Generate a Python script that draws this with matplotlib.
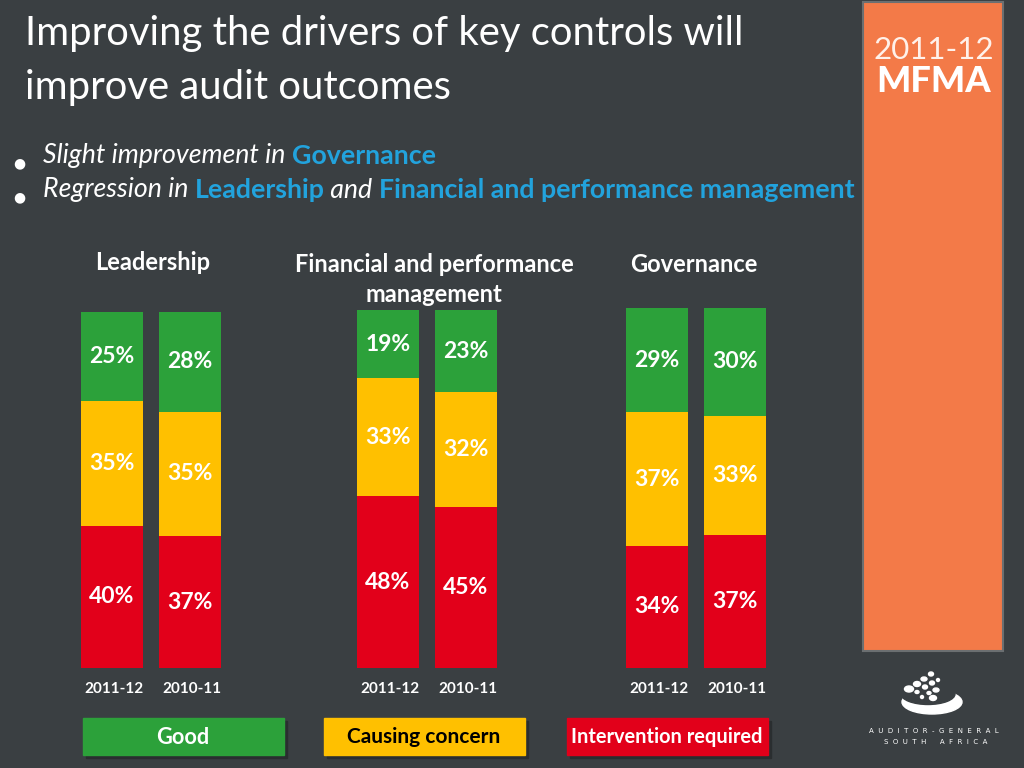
import matplotlib.pyplot as plt
from matplotlib.patches import Rectangle, Ellipse

# data
groups = ['Leadership', 'Financial and performance\nmanagement', 'Governance']
years = ['2011-12', '2010-11']
good = [[25, 28], [19, 23], [29, 30]]
concern = [[35, 35], [33, 32], [37, 33]]
intervention = [[40, 37], [48, 45], [34, 37]]
legend_labels = ['Good', 'Causing concern', 'Intervention required']

BG = '#3a3f42'
GREEN = '#2ca13a'
YELLOW = '#ffc000'
RED = '#e2001a'
BLUE = '#22a3dd'
ORANGE = '#f37a48'
FONT = 'Lato'

W, H = 1024, 768
fig = plt.figure(figsize=(W / 100, H / 100), dpi=100, facecolor=BG)
bg = fig.add_axes([0, 0, 1, 1])
bg.set_xlim(0, W)
bg.set_ylim(H, 0)
bg.axis('off')
bg.set_facecolor(BG)

# title
bg.text(25, 34, 'Improving the drivers of key controls will', color='white',
        fontsize=28.8, family=FONT, va='center')
bg.text(25, 88, 'improve audit outcomes', color='white',
        fontsize=28.8, family=FONT, va='center')

# bullets with mixed styles
fig.canvas.draw()
renderer = fig.canvas.get_renderer()


def runs(x, y, parts):
    for txt, col, style, weight in parts:
        t = bg.text(x, y, txt, color=col, fontsize=19.3, family=FONT,
                    style=style, weight=weight, va='center')
        bb = t.get_window_extent(renderer=renderer)
        x += bb.width


for yy in (163, 197):
    bg.text(19, yy, '\u25CF', color='white', fontsize=10, ha='center', va='center')
runs(43, 156, [('Slight improvement in ', 'white', 'italic', 'normal'),
               ('Governance', BLUE, 'normal', 'bold')])
runs(43, 190, [('Regression in ', 'white', 'italic', 'normal'),
               ('Leadership', BLUE, 'normal', 'bold'),
               (' and ', 'white', 'italic', 'normal'),
               ('Financial and performance management', BLUE, 'normal', 'bold')])

# bar groups
bar_left = [112, 388, 657]   # pixel centre of first bar in each group
bar_top = [312, 310, 308]
bar_bottom = 668
step = 78
title_x = [153, 434, 694]
title_y = [263, 264, 265]

for i, name in enumerate(groups):
    left = (bar_left[i] - step / 2) / W
    bottom = (H - bar_bottom) / H
    height = (bar_bottom - bar_top[i]) / H
    ax = fig.add_axes([left, bottom, 2 * step / W, height])
    ax.set_xlim(-0.5, 1.5)
    ax.set_ylim(0, 100)
    ax.axis('off')
    xs = [0, 1]
    r = intervention[i]
    y_ = concern[i]
    g = good[i]
    ax.bar(xs, r, width=0.8, color=RED)
    ax.bar(xs, y_, width=0.8, bottom=r, color=YELLOW)
    ax.bar(xs, g, width=0.8, bottom=[a + b for a, b in zip(r, y_)], color=GREEN)
    for j in xs:
        segs = [(0, r[j]), (r[j], y_[j]), (r[j] + y_[j], g[j])]
        for b, v in segs:
            ax.text(j, b + v / 2, f'{v}%', color='white', fontsize=16.5,
                    weight='bold', family=FONT, ha='center', va='center')
        bg.text(bar_left[i] + j * step + 2, 689, years[j], color='white',
                fontsize=11, weight='bold', family=FONT, ha='center', va='center')
    for k, line in enumerate(name.split('\n')):
        bg.text(title_x[i], title_y[i] + 30 * k, line, color='white', fontsize=17,
                weight='bold', family=FONT, ha='center', va='center')

# legend boxes
box_x = [83, 324, 567]
box_col = [GREEN, YELLOW, RED]
txt_col = ['white', 'black', 'white']
txt_size = [15.7, 15, 14.4]
for bx, lab, c, tc, ts in zip(box_x, legend_labels, box_col, txt_col, txt_size):
    bg.add_patch(Rectangle((bx + 3, 721), 201, 37, color='#2a2e30', zorder=1))
    bg.add_patch(Rectangle((bx, 718), 201, 37, color=c, zorder=2))
    bg.text(bx + 100, 737, lab, color=tc, fontsize=ts,
            weight='bold', family=FONT, ha='center', va='center', zorder=3)

# orange side band
bg.add_patch(Rectangle((863, 2), 140, 649, facecolor=ORANGE, edgecolor='#6b6f71', lw=1.5))
bg.text(934, 50, '2011-12', color='#fff1ea', fontsize=22.5, family=FONT,
        weight='normal', ha='center', va='center')
bg.text(934, 82, 'MFMA', color='white', fontsize=26, family=FONT,
        weight='black', ha='center', va='center')

# logo
bg.add_patch(Ellipse((932, 702), 60, 24, color='white'))
bg.add_patch(Ellipse((928, 694), 54, 21, color=BG))
for (dx, dy, w, h) in [(909, 689, 9, 6), (917, 684, 7, 5), (924, 679, 6, 4), (931, 674, 5, 4),
                       (917, 692, 4, 3), (925, 687, 5, 4), (932, 683, 5, 4), (936, 690, 6, 4),
                       (929, 693, 4, 3), (933, 698, 7, 5), (922, 697, 3, 3), (938, 680, 3, 3)]:
    bg.add_patch(Ellipse((dx, dy), w, h, color='white'))
bg.text(934, 731, '  '.join('AUDITOR-GENERAL'), color='white', fontsize=5,
        family='DejaVu Sans', ha='center', va='center')
bg.text(936, 742, '  '.join('SOUTH') + '      ' + '  '.join('AFRICA'), color='white',
        fontsize=5, family='DejaVu Sans', ha='center', va='center')

fig.savefig('out.png', dpi=100, facecolor=BG)
